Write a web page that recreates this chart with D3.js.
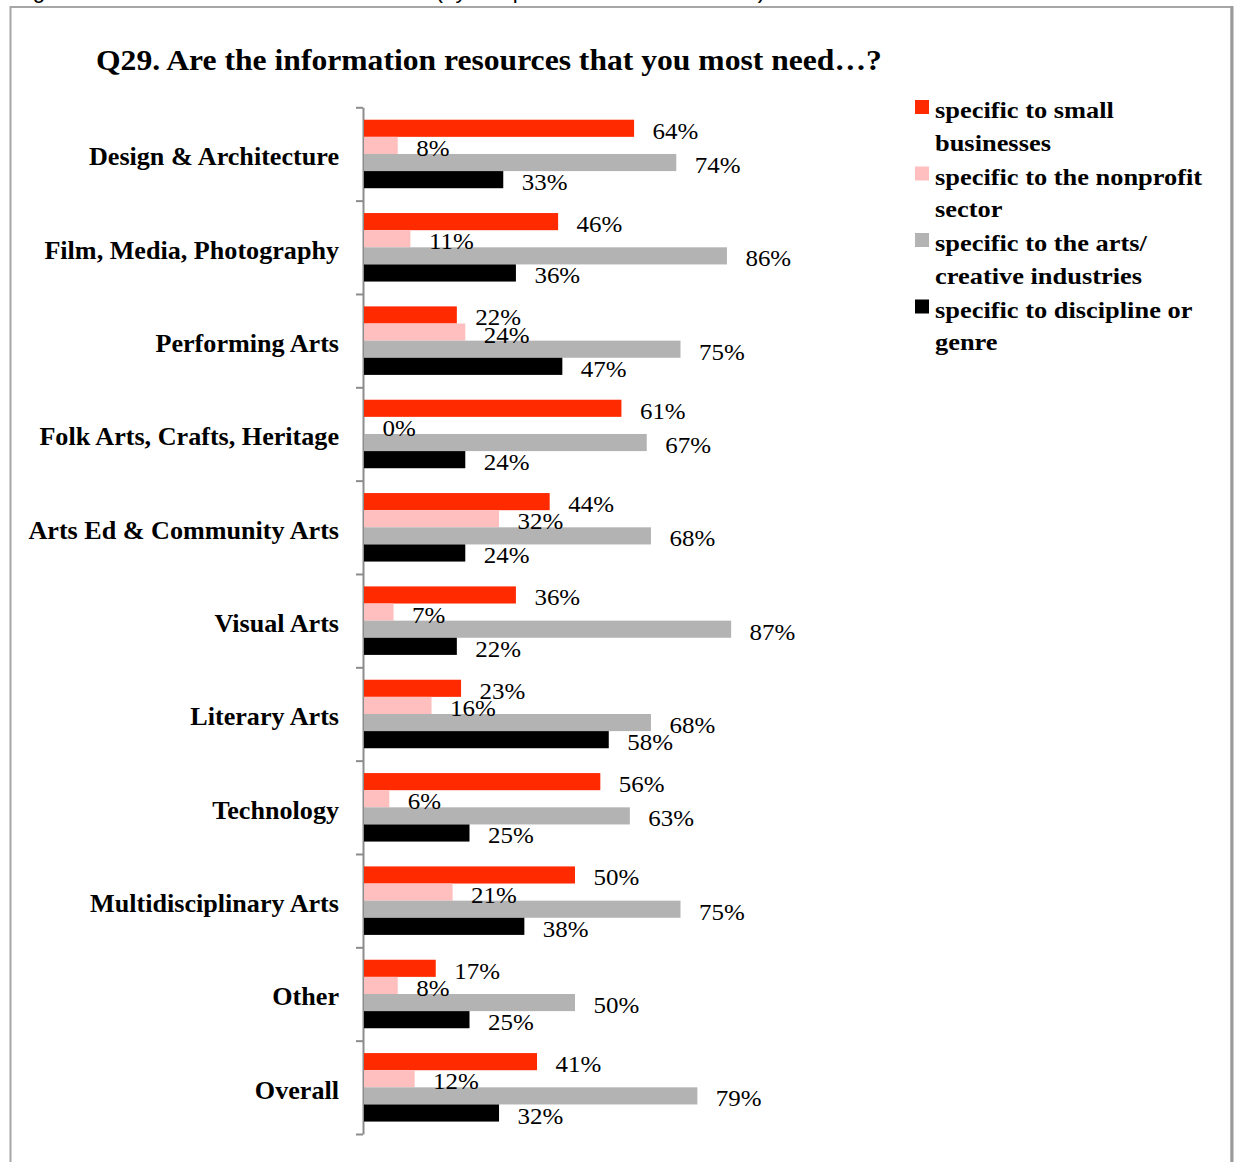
<!DOCTYPE html>
<html>
<head>
<meta charset="utf-8">
<script src="https://cdn.jsdelivr.net/npm/d3@7"></script>
<style>
  html, body { margin: 0; padding: 0; background: #fff; }
  svg { display: block; }
</style>
</head>
<body>
<svg id="chart" width="1238" height="1162"></svg>
<script>
// Survey question Q29: share of respondents, by discipline, who said the
// information resources they most need are specific to each sector.
const categories = [
  "Design & Architecture",
  "Film, Media, Photography",
  "Performing Arts",
  "Folk Arts, Crafts, Heritage",
  "Arts Ed & Community Arts",
  "Visual Arts",
  "Literary Arts",
  "Technology",
  "Multidisciplinary Arts",
  "Other",
  "Overall"
];

const seriesNames = [
  "specific to small businesses",
  "specific to the nonprofit sector",
  "specific to the arts/ creative industries",
  "specific to discipline or genre"
];

// Legend text, wrapped as it is shown
const legendLines = [
  ["specific to small", "businesses"],
  ["specific to the nonprofit", "sector"],
  ["specific to the arts/", "creative industries"],
  ["specific to discipline or", "genre"]
];

const smallBusiness = [64, 46, 22, 61, 44, 36, 23, 56, 50, 17, 41];
const nonprofit     = [ 8, 11, 24,  0, 32,  7, 16,  6, 21,  8, 12];
const artsCreative  = [74, 86, 75, 67, 68, 87, 68, 63, 75, 50, 79];
const discipline    = [33, 36, 47, 24, 24, 22, 58, 25, 38, 25, 32];

const seriesValues = [smallBusiness, nonprofit, artsCreative, discipline];
const seriesColors = ["#ff2a00", "#ffbfbf", "#b3b3b3", "#000000"];

const title = "Q29. Are the information resources that you most need\u2026?";
const caption = "Figure 11: Information Resources Needed (by Respondent Sector and Size)";

const serif = "'Liberation Serif', 'Times New Roman', serif";

// Widen a text run by a factor so the face reads like a broader old-style serif
function widen(sel, factor) {
  sel.each(function() {
    const len = this.getComputedTextLength();
    d3.select(this)
      .attr("textLength", len * factor)
      .attr("lengthAdjust", "spacingAndGlyphs");
  });
}

const svg = d3.select("#chart");

// Caption of the page above the framed figure, mostly cut off at the top edge
svg.append("text")
  .attr("x", 14)
  .attr("y", -2)
  .attr("font-family", "'Liberation Sans', Arial, sans-serif")
  .attr("font-size", 22.4)
  .attr("fill", "#000")
  .text(caption);

// Frame around the figure
svg.append("rect")
  .attr("x", 10.5).attr("y", 7)
  .attr("width", 1221).attr("height", 1170)
  .attr("fill", "none")
  .attr("stroke", "#a6a6a6")
  .attr("stroke-width", 2);
svg.append("line")
  .attr("x1", 1232).attr("x2", 1232)
  .attr("y1", 6).attr("y2", 1162)
  .attr("stroke", "#9a9a9a")
  .attr("stroke-width", 3);

// Title
svg.append("text")
  .attr("x", 96)
  .attr("y", 70)
  .attr("font-family", serif)
  .attr("font-weight", "bold")
  .attr("font-size", 29)
  .attr("fill", "#000")
  .text(title)
  .call(widen, 1.09);

// Scales
const plotTop = 107.3, plotBottom = 1134;
const x = d3.scaleLinear().domain([0, 100]).range([364, 786]);
const y = d3.scaleBand().domain(categories).range([plotTop, plotBottom]).padding(0);
const inner = d3.scaleBand()
  .domain(d3.range(seriesValues.length))
  .range([0, y.bandwidth()])
  .paddingInner(0)
  .paddingOuter(0.725);

// Category boundary ticks on the vertical axis
const boundary = d3.scaleLinear().domain([0, categories.length]).range([plotTop, plotBottom]);
const axisG = svg.append("g")
  .attr("transform", `translate(${x(0) - 1},0)`)
  .call(d3.axisLeft(boundary)
    .tickValues(d3.range(categories.length + 1))
    .tickSize(7)
    .tickSizeOuter(0)
    .tickFormat(""));
axisG.selectAll("path, line").attr("stroke", "#8c8c8c").attr("stroke-width", 2);

// Category labels
const labelAxis = svg.append("g")
  .attr("transform", `translate(${x(0) - 1},0)`)
  .call(d3.axisLeft(y).tickSize(0).tickPadding(24));
labelAxis.select(".domain").remove();
labelAxis.selectAll("text")
  .attr("font-family", serif)
  .attr("font-weight", "bold")
  .attr("font-size", 25)
  .attr("fill", "#000")
  .attr("dy", "0.46em")
  .call(widen, 1.045);

// Bars and value labels
const groups = svg.append("g").selectAll("g")
  .data(categories)
  .join("g")
  .attr("transform", d => `translate(0,${y(d)})`);

groups.each(function(cat, ci) {
  const g = d3.select(this);
  seriesValues.forEach((vals, si) => {
    const v = vals[ci];
    g.append("rect")
      .attr("x", x(0))
      .attr("y", inner(si))
      .attr("width", x(v) - x(0))
      .attr("height", inner.bandwidth())
      .attr("fill", seriesColors[si]);
  });
  seriesValues.forEach((vals, si) => {
    const v = vals[ci];
    g.append("text")
      .attr("x", x(v) + 18.5)
      .attr("y", inner(si) + inner.bandwidth() / 2 + 10.5)
      .attr("font-family", serif)
      .attr("font-size", 24)
      .attr("fill", "#000")
      .text(v + "%")
      .call(widen, 1.04);
  });
});

// Legend
const legend = svg.append("g").attr("transform", "translate(915,100)");
const items = legend.selectAll("g")
  .data(seriesNames)
  .join("g")
  .attr("transform", (d, i) => `translate(0,${i * 66.5})`);
items.append("rect")
  .attr("width", 14).attr("height", 14)
  .attr("fill", (d, i) => seriesColors[i]);
items.append("text")
  .attr("font-family", serif)
  .attr("font-weight", "bold")
  .attr("font-size", 24)
  .attr("fill", "#000")
  .selectAll("tspan")
  .data((d, i) => legendLines[i])
  .join("tspan")
  .attr("x", 20)
  .attr("y", (d, j) => 18 + j * 32.5)
  .text(d => d)
  .call(widen, 1.10);
</script>
</body>
</html>
